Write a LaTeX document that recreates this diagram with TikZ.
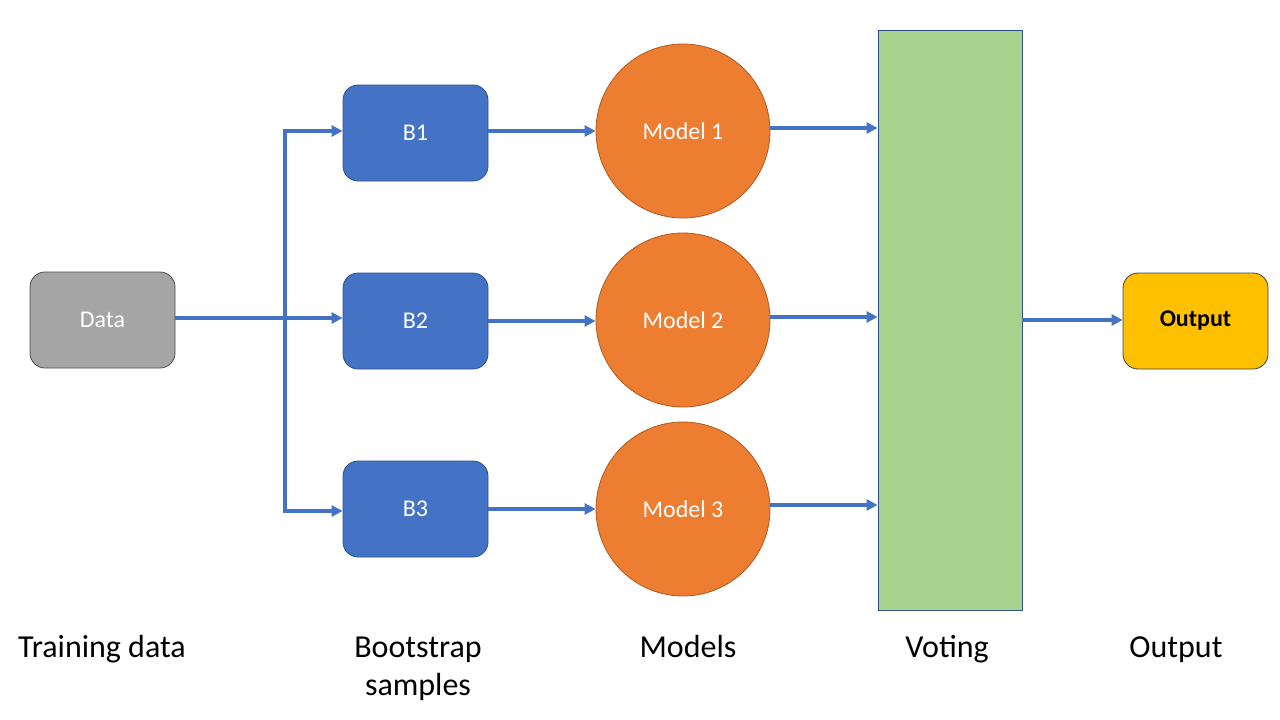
\documentclass[tikz,border=0pt]{standalone}
\usepackage{fontspec}
\setmainfont{Carlito}
\usetikzlibrary{arrows.meta}
\definecolor{cgrey}{HTML}{A5A5A5}
\definecolor{cblue}{HTML}{4472C4}
\definecolor{cblueb}{HTML}{2F528F}
\definecolor{corange}{HTML}{ED7D31}
\definecolor{coranb}{HTML}{AE5A21}
\definecolor{cgreen}{HTML}{A9D18E}
\definecolor{cyellow}{HTML}{FFC000}
\tikzset{
  rbox/.style={rounded corners=15pt, minimum width=145pt, minimum height=96pt, inner sep=0pt, font=\fontsize{24pt}{28pt}\selectfont, line width=0.8pt},
  databox/.style={rbox, fill=cgrey, draw=black!70, text=white},
  bbox/.style={rbox, fill=cblue, draw=cblueb, text=white},
  outbox/.style={rbox, fill=cyellow, draw=black!75, text=black, font=\fontsize{24pt}{28pt}\selectfont\bfseries},
  modelc/.style={circle, minimum size=174pt, inner sep=0pt, fill=corange, draw=coranb, line width=0.8pt, text=white, font=\fontsize{24pt}{28pt}\selectfont},
  conn/.style={draw=cblue, line width=3.2pt, -{Triangle[length=11pt,width=11pt]}},
  bline/.style={draw=cblue, line width=3.2pt},
  caplabel/.style={font=\fontsize{32pt}{38pt}\selectfont, align=center, anchor=base, inner sep=0pt},
}
\begin{document}
\begin{tikzpicture}[x=1pt,y=-1pt]
\useasboundingbox (0,0) rectangle (1280,720);
\node[databox] (data) at (102.5,320) {Data};
\node[bbox] (b1) at (415.5,133) {B1};
\node[bbox] (b2) at (415.5,321) {B2};
\node[bbox] (b3) at (415.5,509) {B3};
\node[modelc] (m1) at (683,131) {Model 1};
\node[modelc] (m2) at (683,320) {Model 2};
\node[modelc] (m3) at (683,509) {Model 3};
\node[draw=cblueb, fill=cgreen, line width=0.8pt, minimum width=144pt, minimum height=580pt, inner sep=0pt] (vote) at (950,320) {};
\node[outbox] (out) at (1195.5,321) {Output};
\coordinate (top) at (285,131);
\coordinate (bot) at (285,511);
\draw[bline] ([yshift=1.6pt]top) -- ([yshift=-1.6pt]bot);
\draw[conn] (top) -- (b1.west |- top);
\draw[conn] (bot) -- (b3.west |- bot);
\draw[conn] (data.east |- 0,318) -- (b2.west |- 0,318);
\draw[conn] (b1.east |- 0,131) -- (m1.west |- 0,131);
\draw[conn] (b2.east |- 0,321) -- (m2.west |- 0,321);
\draw[conn] (b3.east |- 0,509) -- (m3.west |- 0,509);
\draw[conn] (m1.east |- 0,128) -- (vote.west |- 0,128);
\draw[conn] (m2.east |- 0,317) -- (vote.west |- 0,317);
\draw[conn] (m3.east |- 0,505) -- (vote.west |- 0,505);
\draw[conn] (vote.east |- 0,320) -- (out.west |- 0,320);
\node[caplabel] (l1) at (102,657) {Training data};
\node[caplabel] (l2) at (418,695) {Bootstrap\\samples};
\node[caplabel] (l3) at (688,657) {Models};
\node[caplabel] (l4) at (947,657) {Voting};
\node[caplabel] (l5) at (1176,657) {Output};
\end{tikzpicture}
\end{document}
